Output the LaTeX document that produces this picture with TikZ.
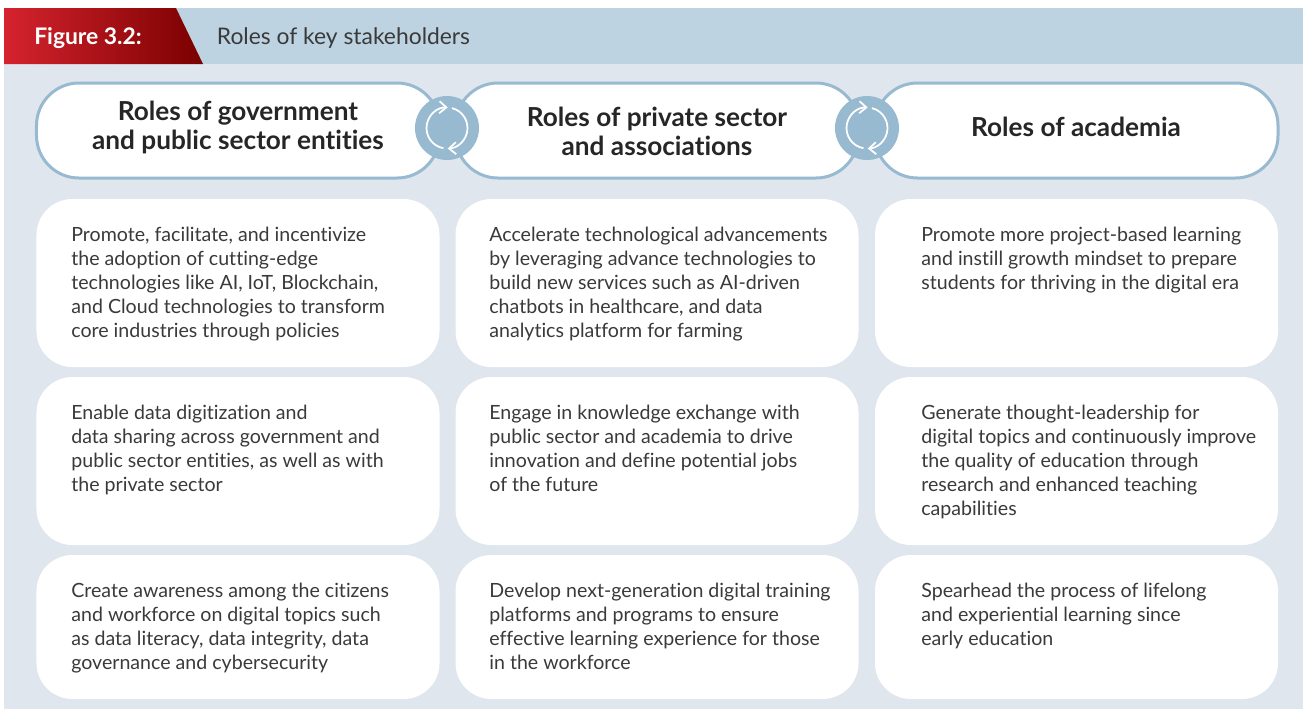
\documentclass[tikz,border=0pt]{standalone}
\usepackage{fontspec}
\setmainfont[Ligatures=NoCommon]{Lato}
\usetikzlibrary{arrows.meta}
\definecolor{bandblue}{HTML}{BDD3E2}
\definecolor{panelgrey}{HTML}{E0E6EE}
\definecolor{lineblue}{HTML}{97BAD1}
\definecolor{darktext}{HTML}{262626}
\definecolor{bodytext}{HTML}{3A3A3A}
\definecolor{figred}{HTML}{D5232E}
\definecolor{figdark}{HTML}{7A0000}
\tikzset{
	headbox/.style={draw=lineblue,line width=0.06cm,fill=white,rounded corners=0.85cm,minimum width=8.06cm,minimum height=1.9cm,inner sep=0},
	headtext/.style={font=\fontsize{14.9}{16.6}\selectfont\bfseries,text=darktext,align=center,inner sep=0},
	cardbox/.style={fill=white,rounded corners=0.72cm,minimum width=8.06cm,inner sep=0},
	cardtext/.style={font=\fontsize{11.15}{13.66}\selectfont,text=bodytext,align=left,anchor=north west,inner sep=0},
	cyclenode/.style={circle,fill=lineblue,minimum size=1.28cm,inner sep=0},
	cyclearc/.style={draw=white,line width=0.035cm,->,>={Straight Barb[length=0.14cm,width=0.24cm]}}
}
\begin{document}
\begin{tikzpicture}[x=0.2mm,y=-0.2mm]
	\useasboundingbox(0,0)rectangle(1303,709);
	\fill[white](0,0)rectangle(1303,709);
	\fill[panelgrey](4,8)rectangle(1303,709);
	\fill[bandblue](4,8)rectangle(1303,64);
	\shade[left color=figred,right color=figdark](4,8)--(176,8)--(203,64)--(4,64)--cycle;
	\node[font=\fontsize{13}{15}\selectfont\bfseries,text=white,inner sep=0](figlabel)at(88,38){Figure 3.2:};
	\node[font=\fontsize{13}{15}\selectfont,text=bodytext,inner sep=0](figtitle)at(343.5,38.5){Roles of key stakeholders};

	\node[headbox](govhead)at(238,130.5){};
	\node[headbox](privhead)at(657,130.5){};
	\node[headbox](acadhead)at(1076.5,130.5){};
	\node[headtext](govtitle)at(238,127.5){Roles of government\\and public sector entities};
	\node[headtext](privtitle)at(657,131){Roles of private sector\\and associations};
	\node[headtext](acadtitle)at(1076,126.5){Roles of academia};

	\node[cyclenode](cycleA)at(447,128){};
	\node[cyclenode](cycleB)at(867,128){};
	\draw[cyclearc]([shift={(260:0.41cm)}]cycleA.center)arc[start angle=260,end angle=88,radius=0.41cm];
	\draw[cyclearc]([shift={(76:0.41cm)}]cycleA.center)arc[start angle=76,end angle=-88,radius=0.41cm];
	\draw[cyclearc]([shift={(260:0.41cm)}]cycleB.center)arc[start angle=260,end angle=88,radius=0.41cm];
	\draw[cyclearc]([shift={(76:0.41cm)}]cycleB.center)arc[start angle=76,end angle=-88,radius=0.41cm];

	\node[cardbox,minimum height=3.36cm](gov1)at(238,283){};
	\node[cardbox,minimum height=3.36cm](gov2)at(238,461){};
	\node[cardbox,minimum height=2.88cm](gov3)at(238,627){};
	\node[cardbox,minimum height=3.36cm](priv1)at(657,283){};
	\node[cardbox,minimum height=3.36cm](priv2)at(657,461){};
	\node[cardbox,minimum height=2.88cm](priv3)at(657,627){};
	\node[cardbox,minimum height=3.36cm](acad1)at(1076.5,283){};
	\node[cardbox,minimum height=3.36cm](acad2)at(1076.5,461){};
	\node[cardbox,minimum height=2.88cm](acad3)at(1076.5,627){};

	\node[cardtext](gov1text)at(71,226.5){Promote, facilitate, and incentivize\\the adoption of cutting-edge\\technologies like AI, IoT, Blockchain,\\and Cloud technologies to transform\\core industries through policies};
	\node[cardtext](gov2text)at(71,404.5){Enable data digitization and\\data sharing across government and\\public sector entities, as well as with\\the private sector};
	\node[cardtext](gov3text)at(71,583){Create awareness among the citizens\\and workforce on digital topics such\\as data literacy, data integrity, data\\governance and cybersecurity};
	\node[cardtext](priv1text)at(489,226.5){Accelerate technological advancements\\by leveraging advance technologies to\\build new services such as AI-driven\\chatbots in healthcare, and data\\analytics platform for farming};
	\node[cardtext](priv2text)at(489,404.5){Engage in knowledge exchange with\\public sector and academia to drive\\innovation and define potential jobs\\of the future};
	\node[cardtext](priv3text)at(489,583){Develop next-generation digital training\\platforms and programs to ensure\\effective learning experience for those\\in the workforce};
	\node[cardtext](acad1text)at(921,226.5){Promote more project-based learning\\and instill growth mindset to prepare\\students for thriving in the digital era};
	\node[cardtext](acad2text)at(921,404.5){Generate thought-leadership for\\digital topics and continuously improve\\the quality of education through\\research and enhanced teaching\\capabilities};
	\node[cardtext](acad3text)at(921,583){Spearhead the process of lifelong\\and experiential learning since\\early education};
\end{tikzpicture}
\end{document}
